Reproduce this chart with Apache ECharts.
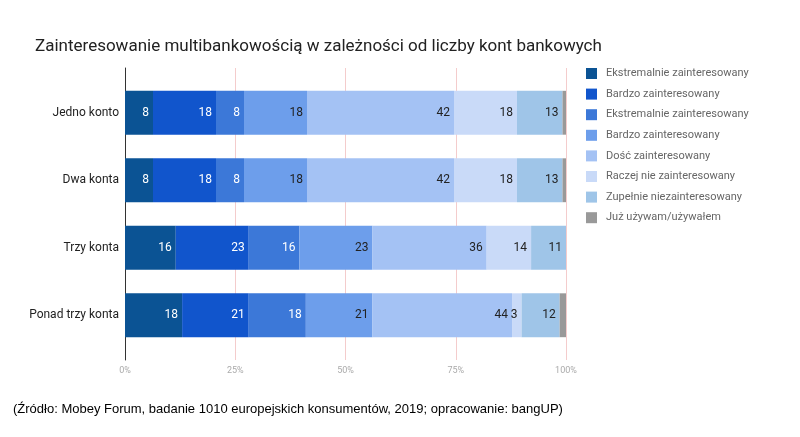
<!DOCTYPE html>
<html>
<head>
<meta charset="utf-8">
<script src="https://cdn.jsdelivr.net/npm/echarts@6/dist/echarts.min.js"></script>
<style>
  html, body { margin: 0; padding: 0; background: #fff; }
  #chart { width: 800px; height: 437px; }
</style>
</head>
<body>
<div id="chart"></div>
<script>
// dane
const categories = ["Jedno konto", "Dwa konta", "Trzy konta", "Ponad trzy konta"];
const seriesNames = [
  "Ekstremalnie zainteresowany",
  "Bardzo zainteresowany",
  "Ekstremalnie zainteresowany ",
  "Bardzo zainteresowany ",
  "Dość zainteresowany",
  "Raczej nie zainteresowany",
  "Zupełnie niezainteresowany",
  "Już używam/używałem"
];
const ekstremalnie1 = [8, 8, 16, 18];
const bardzo1 = [18, 18, 23, 21];
const ekstremalnie2 = [8, 8, 16, 18];
const bardzo2 = [18, 18, 23, 21];
const dosc = [42, 42, 36, 44];
const raczejNie = [18, 18, 14, 3];
const zupelnieNie = [13, 13, 11, 12];
const juzUzywam = [1, 1, 0, 2];
const xTicks = ["0%", "25%", "50%", "75%", "100%"];

const values = [ekstremalnie1, bardzo1, ekstremalnie2, bardzo2, dosc, raczejNie, zupelnieNie, juzUzywam];
const colors = ["#0b5394", "#1155cc", "#3c78d8", "#6d9eeb", "#a4c2f4", "#c9daf8", "#9fc5e8", "#999999"];
const labelColors = ["#fff", "#fff", "#fff", "#222", "#222", "#222", "#222", "#222"];

// sumy wierszy do przeliczenia na 100%
const totals = categories.map((c, i) => values.reduce((s, arr) => s + arr[i], 0));

const chart = echarts.init(document.getElementById("chart"));
chart.setOption({
  animation: false,
  textStyle: { fontFamily: "Roboto" },
  title: {
    text: "Zainteresowanie multibankowością w zależności od liczby kont bankowych",
    left: 30,
    top: 33,
    textStyle: { fontSize: 17, fontWeight: "normal", color: "#222", fontFamily: "Roboto" }
  },
  legend: {
    orient: "vertical",
    left: 581,
    top: 63,
    itemWidth: 11,
    itemHeight: 11,
    itemGap: 9.6,
    icon: "rect",
    data: seriesNames,
    textStyle: { fontSize: 11, color: "#666", fontFamily: "Roboto", padding: [0, 0, 0, 4] }
  },
  grid: [
    { left: 125, width: 441, top: 68, height: 292 },
    { left: 125, width: 441, top: 79, height: 270 }
  ],
  xAxis: [
    {
      gridIndex: 0,
      type: "value",
      min: 0,
      max: 100,
      interval: 25,
      axisLine: { show: false },
      axisTick: { show: false },
      splitLine: { lineStyle: { color: "#f4cccc", width: 1 } },
      axisLabel: {
        color: "#aaa",
        fontSize: 9,
        margin: 6,
        formatter: (v) => xTicks[Math.round(v / 25)]
      }
    },
    {
      gridIndex: 1,
      type: "value",
      min: 0,
      max: 100,
      show: false
    }
  ],
  yAxis: [
    {
      gridIndex: 0,
      type: "category",
      data: [""],
      axisLine: { lineStyle: { color: "#333", width: 1 } },
      axisTick: { show: false },
      axisLabel: { show: false }
    },
    {
      gridIndex: 1,
      type: "category",
      inverse: true,
      data: categories,
      axisLine: { show: false },
      axisTick: { show: false },
      axisLabel: { color: "#222", fontSize: 12, margin: 6 }
    }
  ],
  series: values.map((arr, si) => ({
    name: seriesNames[si],
    type: "bar",
    stack: "total",
    xAxisIndex: 1,
    yAxisIndex: 1,
    barCategoryGap: "35%",
    itemStyle: { color: colors[si] },
    label: {
      show: si < 7,
      position: "insideRight",
      distance: 4,
      color: labelColors[si],
      fontSize: 12,
      formatter: (p) => p.data.raw
    },
    data: arr.map((v, i) => ({ value: v / totals[i] * 100, raw: v }))
  })),
  graphic: [
    {
      type: "text",
      left: 13,
      top: 403,
      style: {
        text: "(Źródło: Mobey Forum, badanie 1010 europejskich konsumentów, 2019; opracowanie: bangUP)",
        font: "13px 'Liberation Sans', Arial, sans-serif",
        fill: "#000"
      }
    }
  ]
});
</script>
</body>
</html>
